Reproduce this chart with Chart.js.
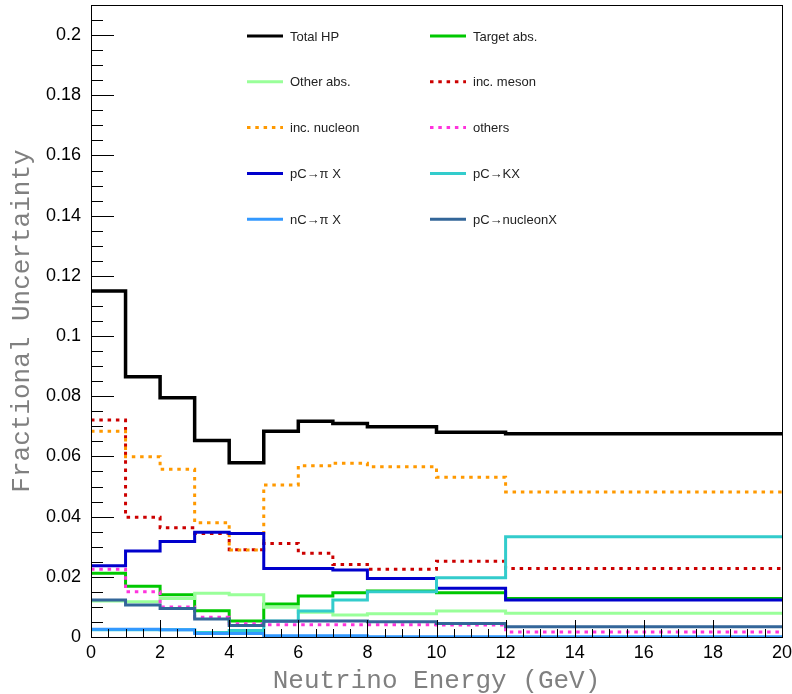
<!DOCTYPE html>
<html>
<head>
<meta charset="utf-8">
<script src="https://cdn.jsdelivr.net/npm/chart.js@4/dist/chart.umd.min.js"></script>
<style>
  html, body { margin: 0; padding: 0; background: #fff; }
  #hpChart { display: block; }
</style>
</head>
<body>
<canvas id="hpChart" width="792" height="694"></canvas>
<script>
// bin edges (GeV) and per-bin fractional uncertainties
const edges = [0, 1, 2, 3, 4, 5, 6, 7, 8, 10, 12, 20];

const totalHP    = [0.115, 0.0865, 0.0795, 0.0653, 0.0579, 0.0684, 0.0717, 0.0709, 0.0699, 0.068, 0.0675];
const targetAbs  = [0.0212, 0.0169, 0.014, 0.0087, 0.0053, 0.011, 0.0136, 0.0147, 0.0153, 0.0147, 0.0128];
const otherAbs   = [0.012, 0.0117, 0.0128, 0.0145, 0.014, 0.0099, 0.0082, 0.0073, 0.0077, 0.0086, 0.0079];
const incMeson   = [0.0721, 0.0398, 0.0363, 0.0344, 0.029, 0.0311, 0.0278, 0.0241, 0.0225, 0.0252, 0.0228];
const incNucleon = [0.0684, 0.0599, 0.0557, 0.038, 0.0289, 0.0505, 0.0569, 0.0577, 0.0566, 0.0531, 0.0482];
const others     = [0.0225, 0.015, 0.01, 0.0066, 0.0044, 0.0041, 0.0041, 0.0041, 0.0041, 0.004, 0.0017];
const pCpiX      = [0.0237, 0.0286, 0.0317, 0.0348, 0.0344, 0.0228, 0.0228, 0.0223, 0.0194, 0.0162, 0.0123];
const pCKX       = [0.0024, 0.0024, 0.0024, 0.0015, 0.0022, 0.0053, 0.0086, 0.0123, 0.015, 0.0197, 0.0333];
const nCpiX      = [0.0026, 0.0026, 0.0024, 0.0012, 0.0012, 0.0004, 0.0004, 0.0004, 0.0001, 0.0001, 0.0001];
const pCnucleonX = [0.0123, 0.0106, 0.0095, 0.006, 0.0038, 0.0052, 0.0053, 0.0053, 0.0051, 0.0045, 0.0034];

const seriesLabels = ['Total HP', 'Target abs.', 'Other abs.', 'inc. meson', 'inc. nucleon', 'others',
                      'pC\u2192\u03c0 X', 'pC\u2192KX', 'nC\u2192\u03c0 X', 'pC\u2192nucleonX'];
const seriesValues = [totalHP, targetAbs, otherAbs, incMeson, incNucleon, others, pCpiX, pCKX, nCpiX, pCnucleonX];
const seriesColors = ['#000000', '#00c800', '#99ff99', '#cc0000', '#ff9900', '#ff33dd',
                      '#0000cc', '#33cccc', '#3399ff', '#336699'];
const seriesDotted = [false, false, false, true, true, true, false, false, false, false];

const yTickLabels = [0, 0.02, 0.04, 0.06, 0.08, 0.1, 0.12, 0.14, 0.16, 0.18, 0.2];

const dotPattern = [3.5, 4.8];

// histogram -> step points (last value repeated at the upper edge)
function histPoints(vals) {
    const pts = vals.map((v, i) => ({x: edges[i], y: v}));
    pts.push({x: edges[edges.length - 1], y: vals[vals.length - 1]});
    return pts;
}

const datasets = seriesValues.map((vals, i) => ({
    label: seriesLabels[i],
    data: histPoints(vals),
    borderColor: seriesColors[i],
    backgroundColor: seriesColors[i],
    borderWidth: i === 0 ? 3.5 : 3,
    borderDash: seriesDotted[i] ? dotPattern : [],
    stepped: true,
    pointRadius: 0,
    fill: false,
    order: -i   // later series on top, like ROOT draw order
}));

// frame + inward ROOT-style ticks
const frameTicks = {
    id: 'frameTicks',
    afterDatasetsDraw(chart) {
        const {ctx, chartArea: a, scales: {x, y}} = chart;
        ctx.save();
        ctx.strokeStyle = '#000';
        ctx.lineWidth = 1;
        ctx.beginPath();
        for (let k = 0; k <= 42; k++) {
            const py = Math.round(y.getPixelForValue(k * 0.005)) + 0.5;
            const len = k % 4 === 0 ? 23 : 12;
            ctx.moveTo(a.left, py);
            ctx.lineTo(a.left + len, py);
        }
        for (let k = 0; k <= 40; k++) {
            const px = Math.round(x.getPixelForValue(k * 0.5)) + 0.5;
            const len = k % 4 === 0 ? 17 : 8;
            ctx.moveTo(px, a.bottom);
            ctx.lineTo(px, a.bottom - len);
        }
        ctx.stroke();
        ctx.strokeRect(Math.round(a.left) + 0.5, Math.round(a.top) + 0.5,
                       Math.round(a.right - a.left), Math.round(a.bottom - a.top));
        ctx.restore();
    }
};

// two-column legend inside the frame
const rootLegend = {
    id: 'rootLegend',
    afterDraw(chart) {
        const ctx = chart.ctx;
        const colX = [247, 430];
        ctx.save();
        ctx.font = '13px "Liberation Sans", Arial, sans-serif';
        ctx.textBaseline = 'middle';
        chart.data.datasets.forEach((ds, i) => {
            const cx = colX[i % 2];
            const cy = 36 + Math.floor(i / 2) * 45.8;
            ctx.strokeStyle = ds.borderColor;
            ctx.lineWidth = 3;
            ctx.setLineDash(ds.borderDash);
            ctx.beginPath();
            ctx.moveTo(cx, cy);
            ctx.lineTo(cx + 36, cy);
            ctx.stroke();
            ctx.setLineDash([]);
            ctx.fillStyle = '#222';
            ctx.fillText(ds.label, cx + 43, cy + 1);
        });
        ctx.restore();
    }
};

const ctx = document.getElementById('hpChart');

const chart = new Chart(ctx, {
    type: 'line',
    data: { datasets: datasets },
    options: {
        responsive: false,
        animation: false,
        layout: { padding: { top: 5, right: 10, left: 0, bottom: 0 } },
        plugins: {
            legend: { display: false },
            tooltip: { enabled: false }
        },
        scales: {
            x: {
                type: 'linear',
                min: 0,
                max: 20,
                grid: { display: false, drawTicks: false },
                border: { display: false },
                ticks: {
                    stepSize: 2,
                    padding: 5,
                    color: '#000',
                    maxRotation: 0,
                    font: { family: '"Liberation Sans", Arial, sans-serif', size: 18 }
                },
                title: {
                    display: true,
                    text: 'Neutrino Energy (GeV)',
                    color: '#808080',
                    padding: { top: 0, bottom: 0 },
                    font: { family: '"Liberation Mono", "DejaVu Sans Mono", monospace', size: 26, lineHeight: 1 }
                },
                afterFit(scale) {
                    scale.height = 57;
                    scale.paddingLeft = 0;
                    scale.paddingRight = 0;
                }
            },
            y: {
                min: 0,
                max: 0.21,
                grid: { display: false, drawTicks: false },
                border: { display: false },
                afterBuildTicks(scale) {
                    scale.ticks = yTickLabels.map(v => ({ value: v }));
                },
                ticks: {
                    padding: 10,
                    color: '#000',
                    font: { family: '"Liberation Sans", Arial, sans-serif', size: 18 },
                    callback: v => String(+v.toFixed(2))
                },
                title: {
                    display: true,
                    text: 'Fractional Uncertainty',
                    color: '#808080',
                    padding: { top: 9, bottom: 0 },
                    font: { family: '"Liberation Mono", "DejaVu Sans Mono", monospace', size: 26, lineHeight: 1 }
                },
                afterFit(scale) {
                    scale.width = 91;
                    scale.paddingTop = 0;
                    scale.paddingBottom = 0;
                }
            }
        }
    },
    plugins: [frameTicks, rootLegend]
});
</script>
</body>
</html>
